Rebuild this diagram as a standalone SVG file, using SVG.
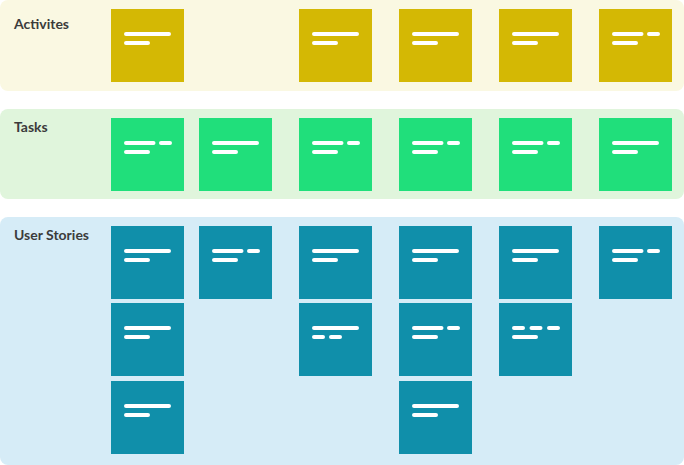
<svg xmlns="http://www.w3.org/2000/svg" width="684" height="465" viewBox="0 0 684 465">
<style>
.lbl{font-family:Lato,"Liberation Sans",sans-serif;font-weight:bold;font-size:14px;fill:#3b3b3b}
.ca{fill:#D4B804}
.ct{fill:#20DF7B}
.cs{fill:#108FAA}
.ln{stroke:#ffffff;stroke-width:4;stroke-linecap:round;fill:none}
</style>
<defs>
<g id="std"><path class="ln" d="M15 25H58M15 34H37"/></g>
<g id="va"><path class="ln" d="M15 25H42.5M50 25H59M15 34H37"/></g>
<g id="vb"><path class="ln" d="M15 25H58M15 34H24M32 34H41"/></g>
<g id="vc"><path class="ln" d="M15 25H24M32.5 25H41.5M50 25H59M15 34H37"/></g>
</defs>
<g id="bands">
<rect x="0" y="0" width="684" height="91" rx="8" fill="#FAF8E2"/>
<rect x="0" y="109" width="684" height="90" rx="8" fill="#E0F5DC"/>
<rect x="0" y="217" width="684" height="248" rx="8" fill="#D6ECF7"/>
</g>
<g id="labels">
<text class="lbl" x="14" y="28.5">Activites</text>
<text class="lbl" x="14" y="132">Tasks</text>
<text class="lbl" x="14" y="239.5">User Stories</text>
</g>
<g id="connectors"></g>
<g id="act1" transform="translate(111,9)"><rect class="ca" width="73" height="73"/><use href="#std"/></g>
<g id="act3" transform="translate(299,9)"><rect class="ca" width="73" height="73"/><use href="#std"/></g>
<g id="act4" transform="translate(399,9)"><rect class="ca" width="73" height="73"/><use href="#std"/></g>
<g id="act5" transform="translate(499,9)"><rect class="ca" width="73" height="73"/><use href="#std"/></g>
<g id="act6" transform="translate(599,9)"><rect class="ca" width="73" height="73"/><use href="#va"/></g>
<g id="task1" transform="translate(111,118)"><rect class="ct" width="73" height="73"/><use href="#va"/></g>
<g id="task2" transform="translate(199,118)"><rect class="ct" width="73" height="73"/><use href="#std"/></g>
<g id="task3" transform="translate(299,118)"><rect class="ct" width="73" height="73"/><use href="#va"/></g>
<g id="task4" transform="translate(399,118)"><rect class="ct" width="73" height="73"/><use href="#va"/></g>
<g id="task5" transform="translate(499,118)"><rect class="ct" width="73" height="73"/><use href="#va"/></g>
<g id="task6" transform="translate(599,118)"><rect class="ct" width="73" height="73"/><use href="#std"/></g>
<g id="us1a" transform="translate(111,226)"><rect class="cs" width="73" height="73"/><use href="#std"/></g>
<g id="us2a" transform="translate(199,226)"><rect class="cs" width="73" height="73"/><use href="#va"/></g>
<g id="us3a" transform="translate(299,226)"><rect class="cs" width="73" height="73"/><use href="#std"/></g>
<g id="us4a" transform="translate(399,226)"><rect class="cs" width="73" height="73"/><use href="#std"/></g>
<g id="us5a" transform="translate(499,226)"><rect class="cs" width="73" height="73"/><use href="#std"/></g>
<g id="us6a" transform="translate(599,226)"><rect class="cs" width="73" height="73"/><use href="#va"/></g>
<g id="us1b" transform="translate(111,303)"><rect class="cs" width="73" height="73"/><use href="#std"/></g>
<g id="us3b" transform="translate(299,303)"><rect class="cs" width="73" height="73"/><use href="#vb"/></g>
<g id="us4b" transform="translate(399,303)"><rect class="cs" width="73" height="73"/><use href="#va"/></g>
<g id="us5b" transform="translate(499,303)"><rect class="cs" width="73" height="73"/><use href="#vc"/></g>
<g id="us1c" transform="translate(111,381)"><rect class="cs" width="73" height="73"/><use href="#std"/></g>
<g id="us4c" transform="translate(399,381)"><rect class="cs" width="73" height="73"/><use href="#std"/></g>
</svg>
